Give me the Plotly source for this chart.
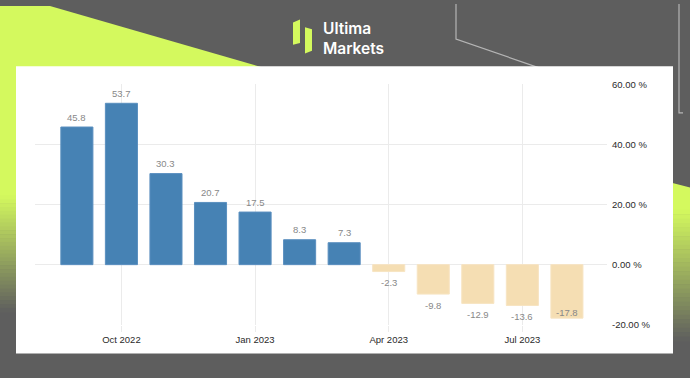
import plotly.graph_objects as go

# ---------------- data ----------------
months = ["Sep 2022", "Oct 2022", "Nov 2022", "Dec 2022", "Jan 2023", "Feb 2023",
          "Mar 2023", "Apr 2023", "May 2023", "Jun 2023", "Jul 2023", "Aug 2023"]
values = [45.8, 53.7, 30.3, 20.7, 17.5, 8.3, 7.3, -2.3, -9.8, -12.9, -13.6, -17.8]
tick_months = ["Oct 2022", "Jan 2023", "Apr 2023", "Jul 2023"]
y_ticks = [-20, 0, 20, 40, 60]

# ---------------- styling helpers ----------------
W, H = 690, 378
BG = "#5e5e5e"
LIME = (212, 249, 94)
GRAY = (94, 94, 94)
POS = "#4682b4"
NEG = "#f5deb3"
LABEL_GRAY = "#888888"
TICK_FONT = "Liberation Sans, Arial, sans-serif"


def fx(x):
    return x / W


def fy(y):
    return 1 - y / H


def poly(points):
    s = "M" + " L".join(f"{fx(x):.5f},{fy(y):.5f}" for x, y in points) + " Z"
    return s


def mix(c1, c2, t):
    return "rgb(%d,%d,%d)" % tuple(round(a + (b - a) * t) for a, b in zip(c1, c2))


shapes = []
lime_hex = "rgb(%d,%d,%d)" % LIME

# top-left lime triangle
shapes.append(dict(type="path", xref="paper", yref="paper", layer="below",
                   path=poly([(0, 0), (50, 0), (420, 110), (0, 110)]),
                   fillcolor=lime_hex, line=dict(width=0)))
# left strip lime
shapes.append(dict(type="rect", xref="paper", yref="paper", layer="below",
                   x0=0, x1=fx(30), y0=fy(200), y1=fy(100),
                   fillcolor=lime_hex, line=dict(width=0)))
# left strip gradient
n = 30
top, bot = 195, 315
for i in range(n):
    y0 = top + (bot - top) * i / n
    y1 = top + (bot - top) * (i + 1) / n + 0.6
    shapes.append(dict(type="rect", xref="paper", yref="paper", layer="below",
                       x0=0, x1=fx(30), y0=fy(y1), y1=fy(y0),
                       fillcolor=mix(LIME, GRAY, (i + 0.5) / n), line=dict(width=0)))
# right lime shape
shapes.append(dict(type="path", xref="paper", yref="paper", layer="below",
                   path=poly([(660, 179), (690, 187), (690, 212), (660, 212)]),
                   fillcolor=lime_hex, line=dict(width=0)))
top, bot = 210, 345
for i in range(n):
    y0 = top + (bot - top) * i / n
    y1 = top + (bot - top) * (i + 1) / n + 0.6
    shapes.append(dict(type="rect", xref="paper", yref="paper", layer="below",
                       x0=fx(660), x1=1, y0=fy(y1), y1=fy(y0),
                       fillcolor=mix(LIME, GRAY, (i + 0.5) / n), line=dict(width=0)))

# decorative thin lines top right
shapes.append(dict(type="path", xref="paper", yref="paper", layer="below",
                   path="M" + " L".join(f"{fx(x):.5f},{fy(y):.5f}" for x, y in
                                        [(456, -2), (456, 34), (540, 64)]),
                   line=dict(color="#b5b5b5", width=1.2)))
shapes.append(dict(type="path", xref="paper", yref="paper", layer="below",
                   path="M" + " L".join(f"{fx(x):.5f},{fy(y):.5f}" for x, y in
                                        [(679, -2), (679, 110), (683, 110)]),
                   line=dict(color="#b5b5b5", width=1.2)))

# logo icon
shapes.append(dict(type="path", xref="paper", yref="paper", layer="below",
                   path=poly([(293, 17), (300, 14), (300, 38), (293, 40)]),
                   fillcolor=lime_hex, line=dict(width=0)))
shapes.append(dict(type="path", xref="paper", yref="paper", layer="below",
                   path=poly([(305, 22), (312, 24), (312, 46), (305, 49)]),
                   fillcolor=lime_hex, line=dict(width=0)))

# white panel
shapes.append(dict(type="rect", xref="paper", yref="paper", layer="below",
                   x0=fx(16), x1=fx(673), y0=fy(358), y1=fy(62),
                   fillcolor="white", line=dict(width=0)))

logo_font = dict(family="Inter, Roboto, sans-serif", size=15.5, color="white", weight=600)
annotations = [
    dict(text="Ultima<br>Markets", x=fx(321), y=fy(33), xref="paper", yref="paper",
         xanchor="left", yanchor="middle", align="left", showarrow=False,
         font=logo_font),
]

# value labels, positioned through the data axes
label_font = dict(family="Liberation Sans, Arial, sans-serif", size=9.5, color=LABEL_GRAY)
for i, (m, v) in enumerate(zip(months, values)):
    if v >= 0:
        shift = 10
    elif i == len(values) - 1:
        shift = 6
    else:
        shift = -11
    annotations.append(dict(text=f"{v:.1f}", x=m, y=v, xref="x", yref="y",
                            xanchor="center", yanchor="middle", yshift=shift,
                            showarrow=False, font=label_font))

colors = [POS if v >= 0 else NEG for v in values]
line_colors = ["#5a8fbf" if v >= 0 else "#f7e4c2" for v in values]

fig = go.Figure(go.Bar(
    x=months, y=values,
    marker=dict(color=colors, line=dict(color=line_colors, width=1)),
    width=0.72,
    cliponaxis=False,
    hoverinfo="skip",
))

fig.update_layout(
    width=W, height=H,
    margin=dict(l=0, r=0, t=0, b=0),
    paper_bgcolor=BG,
    plot_bgcolor="rgba(0,0,0,0)",
    showlegend=False,
    shapes=shapes,
    annotations=annotations,
    xaxis=dict(
        type="category", categoryorder="array", categoryarray=months,
        domain=[fx(35), fx(607)], range=[-0.94, 11.9],
        tickmode="array", tickvals=tick_months, ticktext=tick_months,
        showgrid=True, gridcolor="#ebebeb", gridwidth=1,
        ticks="outside", ticklen=6, tickcolor="#ebebeb",
        tickfont=dict(family=TICK_FONT, size=9.5, color="#2a2a2a"),
        showline=False, zeroline=False, fixedrange=True,
    ),
    yaxis=dict(
        domain=[fy(328.3), fy(80.7)], range=[-20, 60], side="right",
        tickmode="array", tickvals=y_ticks,
        ticktext=[f"{v:.2f} %" for v in y_ticks],
        showgrid=True, gridcolor="#ebebeb", gridwidth=1,
        zeroline=False, showline=False, ticks="",
        ticklabelstandoff=4,
        tickfont=dict(family=TICK_FONT, size=9.5, color="#2a2a2a"),
        fixedrange=True,
    ),
)

fig.write_html(
    "out.html",
    config={"displayModeBar": False},
    post_script="document.body.style.margin='0';document.body.style.overflow='hidden';",
)
